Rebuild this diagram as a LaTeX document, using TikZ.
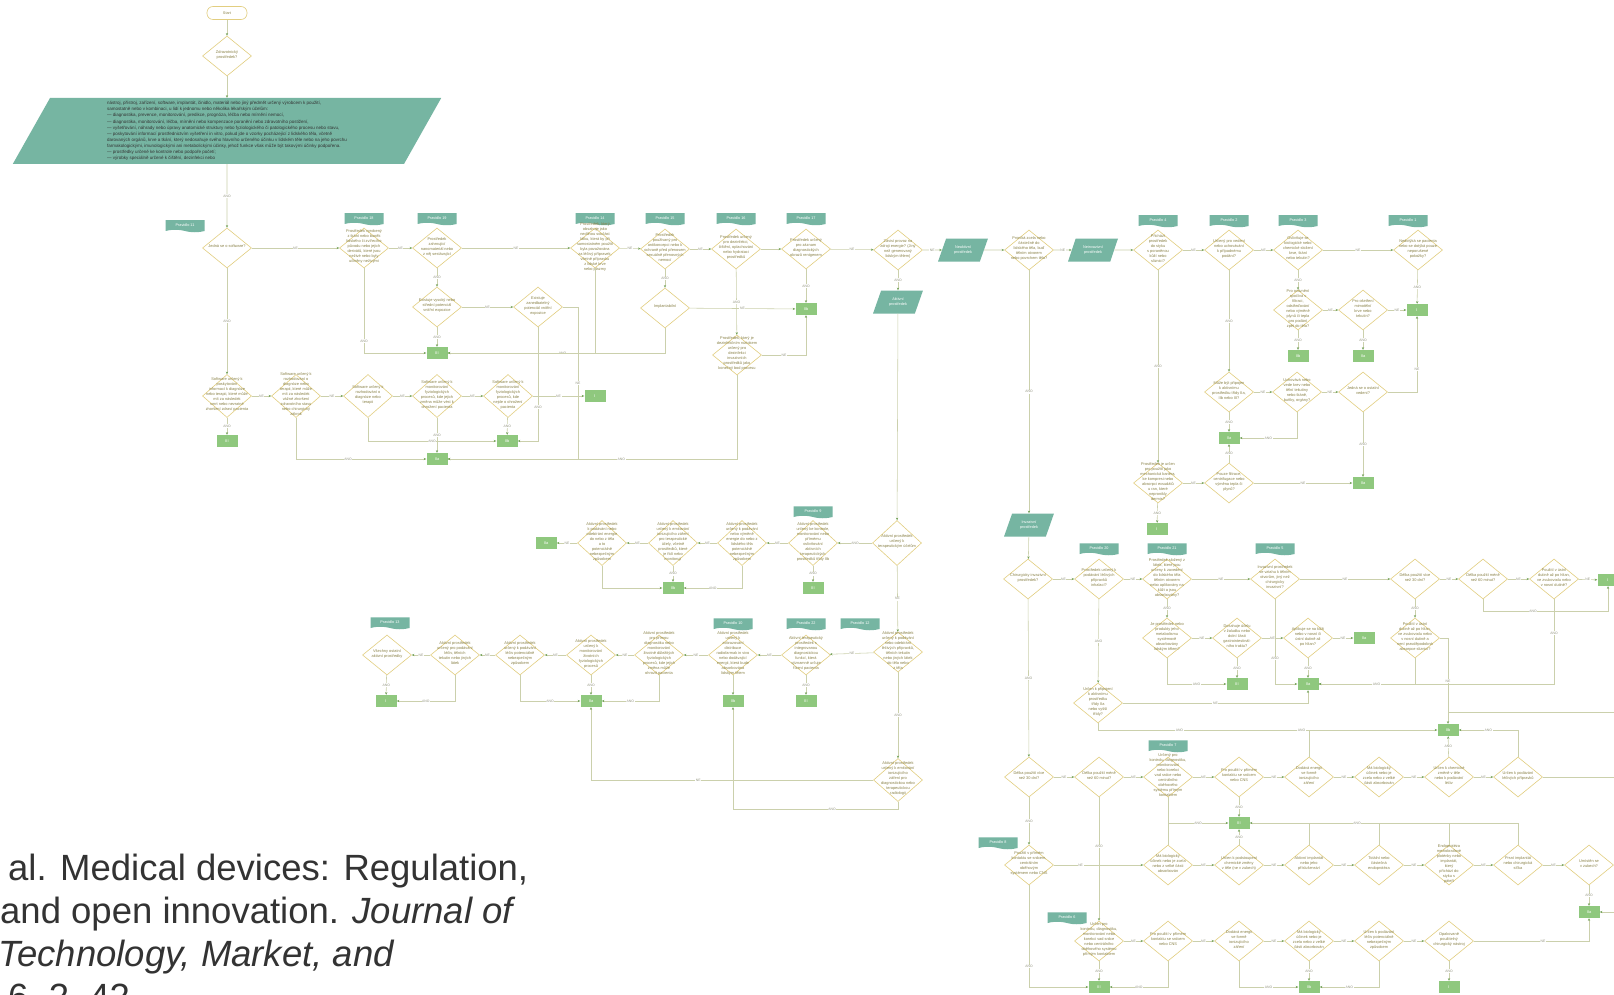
\documentclass[tikz,border=0pt]{standalone}
\usepackage{fontspec}
\setmainfont{Liberation Sans}
\usepackage{tikz}
\usetikzlibrary{positioning}
\usetikzlibrary{shapes.geometric}
\usetikzlibrary{shapes.symbols}
\usetikzlibrary{arrows.meta}

\definecolor{tealc}{RGB}{118,181,162}
\definecolor{greenc}{RGB}{143,200,126}
\definecolor{diac}{RGB}{226,206,128}
\definecolor{linec}{RGB}{203,208,172}
\definecolor{arrc}{RGB}{112,160,84}
\definecolor{txtc}{RGB}{138,130,72}
\definecolor{lblc}{RGB}{150,152,132}

\newcommand{\dtxt}[1]{\makebox[0pt]{\smash{\begin{tabular}{@{}c@{}}#1\end{tabular}}}}

\tikzset{
  dia/.style={diamond, draw=diac, line width=0.6pt, fill=white, minimum width=49pt, minimum height=40pt, inner sep=0pt, text=txtc, font=\fontsize{3.9}{5.0}\selectfont},
  term/.style={rectangle, rounded corners=6pt, draw=diac, line width=0.6pt, fill=white, minimum width=40pt, minimum height=13pt, inner sep=0pt, text=txtc, font=\fontsize{3.8}{4.4}\selectfont},
  para/.style={trapezium, trapezium left angle=65, trapezium right angle=115, trapezium stretches=true, fill=tealc, text=white, minimum width=50pt, minimum height=23pt, inner sep=1pt, align=center, font=\fontsize{3.8}{4.7}\selectfont},
  defbox/.style={trapezium, trapezium left angle=68, trapezium right angle=112, trapezium stretches=true, fill=tealc, text=black!80, minimum width=430pt, minimum height=66pt, inner sep=1pt, font=\fontsize{4.5}{6.1}\selectfont},
  tag/.style={tape, tape bend top=none, tape bend bottom=out and in, tape bend height=2.5pt, fill=tealc, text=white, minimum width=39pt, minimum height=12pt, inner sep=0pt, font=\fontsize{3.8}{4.2}\selectfont},
  cls/.style={rectangle, fill=greenc, text=white, minimum width=21pt, minimum height=12pt, inner sep=0pt, font=\fontsize{3.9}{4.5}\selectfont},
  ln/.style={draw=linec, line width=0.55pt, -{Stealth[length=2.6pt,width=2.2pt,color=arrc]}},
  lnn/.style={draw=linec, line width=0.55pt},
  lbl/.style={fill=white, text=lblc, inner sep=0.6pt, font=\fontsize{3.4}{3.8}\selectfont},
  cit/.style={inner sep=0pt, anchor=base west, text=black!80, font=\fontsize{36.5}{43}\selectfont}
}

\begin{document}
\begin{tikzpicture}[x=1pt,y=-1pt]
\useasboundingbox[fill=white] (0,0) rectangle (1614,995);
\clip (0,0) rectangle (1614,995);

% top
\node[term] (start) at (227,13) {Start};
\node[dia] (zp) at (227,56) {\dtxt{Zdravotnický\\prostředek?}};
\node[defbox] (defin) at (227,131) {\begin{tabular}{@{}l@{}}
nástroj, přístroj, zařízení, software, implantát, činidlo, materiál nebo jiný předmět určený výrobcem k použití,\\
samostatně nebo v kombinaci, u lidí k jednomu nebo několika lékařským účelům:\\
— diagnostika, prevence, monitorování, predikce, prognóza, léčba nebo mírnění nemocí,\\
— diagnostika, monitorování, léčba, mírnění nebo kompenzace poranění nebo zdravotního postižení,\\
— vyšetřování, náhrady nebo úpravy anatomické struktury nebo fyziologického či patologického procesu nebo stavu,\\
— poskytování informací prostřednictvím vyšetření in vitro, pokud jde o vzorky pocházející z lidského těla, včetně\\
darovaných orgánů, krve a tkání, který nedosahuje svého hlavního určeného účinku v lidském těle nebo na jeho povrchu\\
farmakologickými, imunologickými ani metabolickými účinky, jehož funkce však může být takovými účinky podpořena.\\
— prostředky určené ke kontrole nebo podpoře početí;\\
— výrobky speciálně určené k čištění, dezinfekci nebo
\end{tabular}};

% software and rules 18, 19, 14-17
\node[tag] (t11) at (185,225) {Pravidlo 11};
\node[dia] (sw) at (227,248) {\dtxt{Jedná se o software?}};
\node[tag] (t18) at (364,218) {Pravidlo 18};
\node[dia] (r18) at (364,248) {\dtxt{Prostředek vyrobený\\z tkání nebo buněk\\lidského či zvířecího\\původu nebo jejich\\derivátů, které jsou\\neživé nebo byly\\učiněny neživými}};
\node[tag] (t19) at (437,218) {Pravidlo 19};
\node[dia] (r19) at (437,248) {\dtxt{Prostředek\\zahrnující\\nanomateriál nebo\\z něj sestávající}};
\node[dia] (vyso) at (437,307) {\dtxt{Existuje vysoký nebo\\střední potenciál\\vnitřní expozice}};
\node[dia] (zaned) at (538,307) {\dtxt{Existuje\\zanedbatelný\\potenciál vnitřní\\expozice}};
\node[cls] (b1) at (437,353) {III};
\node[tag] (t14) at (595,218) {Pravidlo 14};
\node[dia] (r14) at (595,248) {\dtxt{Prostředek, který\\obsahuje jako\\nedílnou součást\\látku, která by při\\samostatném použití\\byla považována\\za léčivý přípravek,\\včetně přípravku\\z lidské krve\\nebo plazmy}};
\node[tag] (t15) at (665,218) {Pravidlo 15};
\node[dia] (r15) at (665,249) {\dtxt{Prostředek\\používaný pro\\antikoncepci nebo k\\ochraně před přenosem\\sexuálně přenosných\\nemocí}};
\node[dia] (impl) at (665,308) {\dtxt{Implantabilní}};
\node[tag] (t16) at (736,218) {Pravidlo 16};
\node[dia] (r16) at (736,249) {\dtxt{Prostředek určený\\pro dezinfekci,\\čištění, oplachování\\nebo hydrataci\\prostředků}};
\node[dia] (rozs) at (737,355) {\dtxt{Prostředek, který je\\dezinfekčním roztokem\\určený pro\\dezinfekci\\invazivních\\prostředků jako\\konečný bod procesu}};
\node[tag] (t17) at (806,218) {Pravidlo 17};
\node[dia] (r17) at (806,249) {\dtxt{Prostředek určený\\pro záznam\\diagnostických\\obrazů rentgenem}};
\node[cls] (b2) at (806,309) {IIb};
\node[dia] (akt) at (898,250) {\dtxt{Závisí provoz na\\zdroji energie? (Jiný\\než generovaný\\lidským tělem)}};
\node[para] (neakt) at (963,250) {Neaktivní\\prostředek};
\node[para] (aktp) at (898,302) {Aktivní\\prostředek};

% software rows
\node[dia, minimum height=43pt] (swi) at (227,396) {\dtxt{Software určený k\\poskytování\\informací k diagnóze\\nebo terapii, které může\\mít za následek\\smrt nebo nevratné\\zhoršení zdraví pacienta}};
\node[cls] (b3) at (227,441) {III};
\node[dia, minimum height=43pt] (swm) at (296,396) {\dtxt{Software určený k\\rozhodování o\\diagnóze nebo\\terapii, které může\\mít za následek\\vážné zhoršení\\zdravotního stavu\\nebo chirurgický\\zákrok}};
\node[dia, minimum height=43pt] (swr) at (368,396) {\dtxt{Software určený k\\rozhodování o\\diagnóze nebo\\terapii}};
\node[dia, minimum height=43pt] (swf) at (437,396) {\dtxt{Software určený k\\monitorování\\fyziologických\\procesů, kde jejich\\změna může vést k\\ohrožení pacienta}};
\node[dia, minimum height=43pt] (swp) at (508,396) {\dtxt{Software určený k\\monitorování\\fyziologických\\procesů, kde\\nejde o ohrožení\\pacienta}};
\node[cls] (b4) at (595,396) {I};
\node[cls] (b5) at (507,441) {IIb};
\node[cls] (b6) at (437,459) {IIa};

% active devices, rule 9
\node[tag] (t9) at (813,511) {Pravidlo 9};
\node[dia, minimum height=45pt] (ter) at (897,543) {\dtxt{Aktivní prostředek\\určený k\\terapeutickým účelům}};
\node[dia, minimum height=45pt] (r9) at (813,543) {\dtxt{Aktivní prostředek\\určený ke kontrole,\\monitorování nebo\\přímému\\ovlivňování\\aktivních\\terapeutických\\prostředků třídy IIb}};
\node[dia, minimum height=45pt] (d9a) at (742,543) {\dtxt{Aktivní prostředek\\určený k podávání\\nebo výměně\\energie do nebo z\\lidského těla\\potenciálně\\nebezpečným\\způsobem}};
\node[dia, minimum height=45pt] (d9b) at (673,543) {\dtxt{Aktivní prostředek\\určený k emitování\\ionizujícího záření\\pro terapeutické\\účely, včetně\\prostředků, které\\je řídí nebo\\monitorují}};
\node[dia, minimum height=45pt] (d9c) at (602,543) {\dtxt{Aktivní prostředek\\k podávání nebo\\odebírání energie\\do nebo z těla\\a to\\potenciálně\\nebezpečným\\způsobem}};
\node[cls] (b7) at (546,543) {IIa};
\node[cls] (b8) at (673,588) {IIb};
\node[cls] (b9) at (813,588) {III};

% rules 10, 12, 13, 22
\node[tag] (t13) at (390,622) {Pravidlo 13};
\node[dia] (r13) at (387,655) {\dtxt{Všechny ostatní\\aktivní prostředky}};
\node[dia] (d12a) at (455,655) {\dtxt{Aktivní prostředek\\určený pro podávání\\léčiv, tělních\\tekutin nebo jiných\\látek}};
\node[dia] (d12b) at (520,655) {\dtxt{Aktivní prostředek\\určený k podávání\\léčiv potenciálně\\nebezpečným\\způsobem}};
\node[dia] (d10a) at (591,655) {\dtxt{Aktivní prostředek\\určený k\\monitorování\\životních\\fyziologických\\procesů}};
\node[dia] (d10b) at (659,655) {\dtxt{Aktivní prostředek\\pro přímou\\diagnostiku nebo\\monitorování\\životně důležitých\\fyziologických\\procesů, kde jejich\\změna může\\ohrozit pacienta}};
\node[tag] (t10) at (733,623) {Pravidlo 10};
\node[dia] (r10) at (733,655) {\dtxt{Aktivní prostředek\\určený k\\zobrazování\\distribuce\\radiofarmak in vivo\\nebo dodávající\\energii, která bude\\absorbována\\lidským tělem}};
\node[tag] (t22) at (806,623) {Pravidlo 22};
\node[dia] (r22) at (806,655) {\dtxt{Aktivní terapeutický\\prostředek s\\integrovanou\\diagnostickou\\funkcí, která\\významně určuje\\řízení pacienta}};
\node[tag] (t12) at (860,623) {Pravidlo 12};
\node[dia] (r12) at (898,652) {\dtxt{Aktivní prostředek\\určený k podávání\\nebo odebírání\\léčivých přípravků,\\tělních tekutin\\nebo jiných látek\\do těla nebo\\z těla}};
\node[cls] (b10) at (386,701) {I};
\node[cls] (b11) at (591,701) {IIa};
\node[cls] (b12) at (733,701) {IIb};
\node[cls] (b13) at (806,701) {III};
\node[dia, minimum height=43pt] (ion) at (898,780) {\dtxt{Aktivní prostředek\\určený k emitování\\ionizujícího\\záření pro\\diagnostickou nebo\\terapeutickou\\radiologii}};

% non-invasive
\node[dia] (inv) at (1029,250) {\dtxt{Proniká zcela nebo\\částečně do\\lidského těla, buď\\tělním otvorem\\nebo povrchem těla?}};
\node[para] (neinv) at (1093,250) {Neinvazivní\\prostředek};
\node[tag] (t4) at (1158,220) {Pravidlo 4};
\node[dia] (r4) at (1158,250) {\dtxt{Přichází\\prostředek\\do styku\\s poraněnou\\kůží nebo\\sliznicí?}};
\node[tag] (t2) at (1229,220) {Pravidlo 2};
\node[dia] (r2) at (1229,250) {\dtxt{Určený pro vedení\\nebo uchovávání\\k případnému\\podání?}};
\node[tag] (t3) at (1298,220) {Pravidlo 3};
\node[dia] (r3) at (1298,250) {\dtxt{Ovlivňuje se\\biologické nebo\\chemické složení\\krve, tkání\\nebo tekutin?}};
\node[tag] (t1) at (1408,220) {Pravidlo 1};
\node[dia] (r1) at (1418,250) {\dtxt{Nedotýká se pacienta\\nebo se dotýká pouze\\neporušené\\pokožky?}};
\node[cls] (b14) at (1417,310) {I};
\node[dia] (r3a) at (1298,310) {\dtxt{Pro ovlivnění\\spočívá v\\filtraci,\\odstřeďování\\nebo výměně\\plynů či tepla\\pro podání\\zpět do těla?}};
\node[dia] (r3b) at (1363,310) {\dtxt{Pro ošetření\\mimotělní\\krve nebo\\tekutin?}};
\node[cls] (b15) at (1298,356) {IIb};
\node[cls] (b16) at (1363,356) {IIa};
\node[dia] (r2a) at (1229,392) {\dtxt{Může být připojen\\k aktivnímu\\prostředku třídy IIa,\\IIb nebo III?}};
\node[dia] (r2b) at (1297,392) {\dtxt{Uchovává nebo\\vede krev nebo\\tělní tekutiny\\nebo tkáně,\\buňky, orgány?}};
\node[dia] (r2c) at (1363,392) {\dtxt{Jedná se o ostatní\\vedení?}};
\node[cls] (b17) at (1229,438) {IIa};
\node[dia] (r2d) at (1229,483) {\dtxt{Pouze filtrace,\\centrifugace nebo\\výměna tepla či\\plynů?}};
\node[cls] (b18) at (1363,483) {IIa};
\node[dia] (r4a) at (1158,483) {\dtxt{Prostředek je určen\\pro použití jako\\mechanická bariéra,\\ke kompresi nebo\\absorpci exsudátů\\u ran, které\\nepronikly\\dermis?}};
\node[cls] (b19) at (1157,529) {I};

% invasive
\node[para] (invp) at (1029,525) {Invazivní\\prostředek};
\node[dia] (chir) at (1028,579) {\dtxt{Chirurgicky invazivní\\prostředek?}};
\node[tag] (t20) at (1099,548) {Pravidlo 20};
\node[dia] (r20) at (1099,579) {\dtxt{Prostředek určený k\\podávání léčivých\\přípravků\\inhalací?}};
\node[tag] (t21) at (1167,548) {Pravidlo 21};
\node[dia] (r21) at (1167,579) {\dtxt{Prostředek složený z\\látek, které jsou\\určeny k zavedení\\do lidského těla\\tělním otvorem\\nebo aplikovány na\\kůži a jsou\\absorbovány?}};
\node[tag] (t5) at (1275,548) {Pravidlo 5};
\node[dia] (r5) at (1275,579) {\dtxt{Invazivní prostředek\\ve vztahu k tělním\\otvorům, jiný než\\chirurgicky\\invazivní?}};
\node[dia] (d5a) at (1415,579) {\dtxt{Délka použití více\\než 30 dní?}};
\node[dia] (d5b) at (1483,579) {\dtxt{Délka použití méně\\než 60 minut?}};
\node[dia] (d5c) at (1554,579) {\dtxt{Použití v ústní\\dutině až po hltan,\\ve zvukovodu nebo\\v nosní dutině?}};
\node[cls] (b20) at (1608,580) {I};
\node[dia] (r21a) at (1167,638) {\dtxt{Je prostředek nebo\\produkty jeho\\metabolismu\\systémově\\absorbovány\\lidským tělem?}};
\node[dia] (r21b) at (1237,638) {\dtxt{Dosahuje účelu\\v žaludku nebo\\dolní části\\gastrointestinál-\\ního traktu?}};
\node[dia] (r21c) at (1308,638) {\dtxt{Aplikuje se na kůži\\nebo v nosní či\\ústní dutině až\\po hltan?}};
\node[cls] (b21) at (1364,638) {IIa};
\node[cls] (b22) at (1237,684) {III};
\node[cls] (b23) at (1308,684) {IIa};
\node[dia] (d5d) at (1415,638) {\dtxt{Použití v ústní\\dutině až po hltan,\\ve zvukovodu nebo\\v nosní dutině a\\není pravděpodobná\\absorpce sliznicí?}};
\node[dia] (r20a) at (1098,703) {\dtxt{Určen k připojení\\k aktivnímu\\prostředku\\třídy IIa\\nebo vyšší\\třídy?}};
\node[cls] (b24) at (1448,730) {IIb};

% surgically invasive, rules 6, 7, 8
\node[dia] (d30) at (1029,777) {\dtxt{Délka použití více\\než 30 dní?}};
\node[dia] (d60) at (1099,777) {\dtxt{Délka použití méně\\než 60 minut?}};
\node[tag] (t7) at (1168,745) {Pravidlo 7};
\node[dia] (r7) at (1168,777) {\dtxt{Určený pro\\kontrolu, diagnostiku,\\monitorování\\nebo korekci\\vad srdce nebo\\centrálního\\oběhového\\systému přímým\\kontaktem}};
\node[dia] (r7a) at (1239,777) {\dtxt{Pro použití v přímém\\kontaktu se srdcem\\nebo CNS}};
\node[dia] (r7b) at (1309,777) {\dtxt{Dodává energii\\ve formě\\ionizujícího\\záření}};
\node[dia] (r7c) at (1379,777) {\dtxt{Má biologický\\účinek nebo je\\zcela nebo z velké\\části absorbován}};
\node[dia] (r7d) at (1449,777) {\dtxt{Určen k chemické\\změně v těle\\nebo k podávání\\léčiv}};
\node[dia] (r7e) at (1518,777) {\dtxt{Určen k podávání\\léčivých přípravků}};
\node[cls] (b25) at (1239,823) {III};
\node[tag] (t8) at (998,842) {Pravidlo 8};
\node[dia] (r8) at (1029,865) {\dtxt{Použití v přímém\\kontaktu se srdcem,\\centrálním\\oběhovým\\systémem nebo CNS}};
\node[dia] (r8a) at (1168,865) {\dtxt{Má biologický\\účinek nebo je zcela\\nebo z velké části\\absorbován}};
\node[dia] (r8b) at (1239,865) {\dtxt{Určen k podstoupení\\chemické změny\\v těle (ne v zubech)}};
\node[dia] (r8c) at (1309,865) {\dtxt{Aktivní implantát\\nebo jeho\\příslušenství}};
\node[dia] (r8d) at (1379,865) {\dtxt{Totální nebo\\částečná\\endoprotéza}};
\node[dia] (r8e) at (1449,865) {\dtxt{Endoprotéza\\meziobratlové\\ploténky nebo\\implantát,\\který\\přichází do\\styku s\\páteří}};
\node[dia] (r8f) at (1518,865) {\dtxt{Prsní implantát\\nebo chirurgická\\síťka}};
\node[dia] (r8g) at (1589,865) {\dtxt{Umístěn se\\v zubech?}};
\node[cls] (b26) at (1589,912) {IIa};
\node[tag] (t6) at (1067,917) {Pravidlo 6};
\node[dia] (r6) at (1099,941) {\dtxt{Určen pro\\kontrolu, diagnostiku,\\monitorování nebo\\korekci vad srdce\\nebo centrálního\\oběhového systému\\přímým kontaktem}};
\node[dia] (r6a) at (1168,941) {\dtxt{Pro použití v přímém\\kontaktu se srdcem\\nebo CNS}};
\node[dia] (r6b) at (1239,941) {\dtxt{Dodává energii\\ve formě\\ionizujícího\\záření}};
\node[dia] (r6c) at (1309,941) {\dtxt{Má biologický\\účinek nebo je\\zcela nebo z velké\\části absorbován}};
\node[dia] (r6d) at (1379,941) {\dtxt{Určen k podávání\\léčiv potenciálně\\nebezpečným\\způsobem}};
\node[dia] (r6e) at (1449,941) {\dtxt{Opakovaně\\použitelný\\chirurgický nástroj}};
\node[cls] (b27) at (1099,987) {III};
\node[cls] (b28) at (1309,987) {IIb};
\node[cls] (b29) at (1449,987) {I};

% free ends and joints
\coordinate (zj) at (578,459);
\coordinate (ionj) at (733,809);
\coordinate (j5b) at (1608,611);
\coordinate (j24) at (1448,712);
\coordinate (redge1) at (1620,712);
\coordinate (j20) at (1308,703);
\coordinate (redge2) at (1620,777);
\coordinate (j7b) at (1309,730);
\coordinate (redge3) at (1620,912);
\coordinate (j8a) at (1168,823);
\coordinate (j8c) at (1309,823);
\coordinate (j8d) at (1379,823);
\coordinate (j8e) at (1449,823);

% connectors, top part
\draw[ln] (start) -- (zp);
\draw[ln] (zp) -- (defin);
\draw[ln] (defin) -- node[lbl]{ANO} (sw);
\draw[ln] (sw) -- node[lbl]{NE} (r18);
\draw[ln] (r18) -- node[lbl]{NE} (r19);
\draw[ln] (r19) -- node[lbl]{NE} (r14);
\draw[ln] (r14) -- node[lbl]{NE} (r15);
\draw[ln] (r15) -- node[lbl]{NE} (r16);
\draw[ln] (r16) -- (r17);
\draw[ln] (r17) -- node[lbl]{NE} (akt);
\draw[ln] (akt) -- node[lbl]{NE} (neakt);
\draw[ln] (akt) -- node[lbl]{ANO} (aktp);
\draw[ln] (r18.south) |- node[lbl,pos=0.43]{ANO} (b1.west);
\draw[ln] (r19) -- node[lbl]{ANO} (vyso);
\draw[ln] (vyso) -- node[lbl]{ANO} (b1);
\draw[ln] (vyso) -- node[lbl]{NE} (zaned);
\draw[ln] (zaned.south) |- node[lbl,pos=0.35]{ANO} (b5.east);
\draw[ln] (zaned.east) -| node[lbl,pos=0.75]{NE} (zj) -- (b6.east);
\draw[ln] (r14.south) |- node[lbl,pos=0.61]{ANO} (b1.east);
\draw[ln] (impl.south) |- (b1.east);
\draw[ln] (r15) -- node[lbl]{ANO} (impl);
\draw[ln] (impl) -- node[lbl]{NE} (b2);
\draw[ln] (r16) -- node[lbl]{ANO} (rozs);
\draw[ln] (rozs.east) -| node[lbl,pos=0.25]{NE} (b2.south);
\draw[ln] (rozs.south) |- node[lbl,pos=0.7]{ANO} (b6.east);
\draw[ln] (r17) -- node[lbl]{ANO} (b2);

% software
\draw[ln] (sw) -- node[lbl]{ANO} (swi);
\draw[ln] (swi) -- node[lbl]{ANO} (b3);
\draw[ln] (swi) -- node[lbl]{NE} (swm);
\draw[ln] (swm) -- node[lbl]{NE} (swr);
\draw[ln] (swr) -- node[lbl]{NE} (swf);
\draw[ln] (swf) -- node[lbl]{NE} (swp);
\draw[ln] (swp) -- node[lbl]{NE} (b4);
\draw[ln] (swm.south) |- node[lbl,pos=0.7]{ANO} (b6.west);
\draw[ln] (swr.south) |- node[lbl,pos=0.75]{ANO} (b5.west);
\draw[ln] (swf) -- node[lbl]{ANO} (b6);
\draw[ln] (swp) -- node[lbl]{ANO} (b5);

% active devices
\draw[ln] (aktp) -- (ter);
\draw[ln] (ter) -- node[lbl]{ANO} (r9);
\draw[ln] (r9) -- node[lbl]{NE} (d9a);
\draw[ln] (d9a) -- node[lbl]{NE} (d9b);
\draw[ln] (d9b) -- node[lbl]{NE} (d9c);
\draw[ln] (d9c) -- node[lbl]{NE} (b7);
\draw[ln] (r9) -- node[lbl]{ANO} (b9);
\draw[ln] (d9a.south) |- node[lbl,pos=0.75]{ANO} (b8.east);
\draw[ln] (d9b) -- node[lbl]{ANO} (b8);
\draw[ln] (d9c.south) |- (b8.west);
\draw[ln] (ter) -- node[lbl]{NE} (r12);
\draw[ln] (r12) -- node[lbl]{NE} (r22);
\draw[ln] (r22) -- node[lbl]{NE} (r10);
\draw[ln] (r10) -- node[lbl]{NE} (d10b);
\draw[ln] (d10b) -- node[lbl]{NE} (d10a);
\draw[ln] (d10a) -- node[lbl]{NE} (d12b);
\draw[ln] (d12b) -- node[lbl]{NE} (d12a);
\draw[ln] (d12a) -- node[lbl]{NE} (r13);
\draw[ln] (r13) -- node[lbl]{ANO} (b10);
\draw[ln] (d12a.south) |- node[lbl,pos=0.75]{ANO} (b10.east);
\draw[ln] (d12b.south) |- node[lbl,pos=0.75]{ANO} (b11.west);
\draw[ln] (d10a) -- node[lbl]{ANO} (b11);
\draw[ln] (d10b.south) |- node[lbl,pos=0.75]{ANO} (b11.east);
\draw[ln] (r10) -- (b12);
\draw[ln] (r22) -- node[lbl]{ANO} (b13);
\draw[ln] (r12) -- node[lbl]{ANO} (ion);
\draw[ln] (ion.west) -| node[lbl,pos=0.31]{NE} (b11.south);
\draw[ln] (ion.south) |- node[lbl,pos=0.7]{ANO} (ionj) -- (b12.south);

% non-invasive
\draw[ln] (neakt) -- (inv);
\draw[ln] (inv) -- node[lbl]{NE} (neinv);
\draw[ln] (neinv) -- (r4);
\draw[ln] (r4) -- node[lbl]{NE} (r2);
\draw[ln] (r2) -- node[lbl]{NE} (r3);
\draw[ln] (r3) -- node[lbl]{NE} (r1);
\draw[ln] (r1) -- node[lbl]{ANO} (b14);
\draw[ln] (r3) -- node[lbl]{ANO} (r3a);
\draw[ln] (r3a) -- node[lbl]{NE} (r3b);
\draw[ln] (r3b) -- node[lbl]{NE} (b14);
\draw[ln] (r3a) -- node[lbl]{ANO} (b15);
\draw[ln] (r3b) -- node[lbl]{ANO} (b16);
\draw[ln] (r2) -- node[lbl]{ANO} (r2a);
\draw[ln] (r2a) -- node[lbl]{NE} (r2b);
\draw[ln] (r2b) -- node[lbl]{NE} (r2c);
\draw[ln] (r2c.east) -| node[lbl,pos=0.65]{NE} (b14.south);
\draw[ln] (r2c) -- node[lbl]{ANO} (b18);
\draw[ln] (r2a) -- node[lbl]{ANO} (b17);
\draw[ln] (r2b.south) |- node[lbl,pos=0.75]{ANO} (b17.east);
\draw[ln] (r2d) -- node[lbl]{ANO} (b17);
\draw[ln] (r2d) -- node[lbl]{NE} (b18);
\draw[ln] (r4) -- node[lbl]{ANO} (r4a);
\draw[ln] (r4a) -- node[lbl]{NE} (r2d);
\draw[ln] (r4a) -- node[lbl]{ANO} (b19);

% invasive
\draw[ln] (inv) -- node[lbl]{ANO} (invp);
\draw[ln] (invp) -- (chir);
\draw[ln] (chir) -- node[lbl]{NE} (r20);
\draw[ln] (r20) -- node[lbl]{NE} (r21);
\draw[ln] (r21) -- node[lbl]{NE} (r5);
\draw[ln] (r5) -- node[lbl]{NE} (d5a);
\draw[ln] (d5a) -- node[lbl]{NE} (d5b);
\draw[ln] (d5b) -- node[lbl]{NE} (d5c);
\draw[ln] (d5c) -- node[lbl]{NE} (b20);
\draw[ln] (d5b.south) |- node[lbl,pos=0.7]{ANO} (j5b) -- (b20.south);
\draw[ln] (d5c.south) |- node[lbl,pos=0.2]{ANO} (b23.east);
\draw[ln] (d5a) -- node[lbl]{ANO} (d5d);
\draw[ln] (d5d.south) |- node[lbl,pos=0.7]{ANO} (b23.east);
\draw[ln] (d5d.east) -| node[lbl,pos=0.75]{NE} (b24.north);
\draw[lnn] (redge1) -- (j24);
\draw[ln] (r21) -- node[lbl]{ANO} (r21a);
\draw[ln] (r21a) -- node[lbl]{NE} (r21b);
\draw[ln] (r21b) -- node[lbl]{NE} (r21c);
\draw[ln] (r21c) -- node[lbl]{NE} (b21);
\draw[ln] (r21a.south) |- node[lbl,pos=0.75]{ANO} (b22.west);
\draw[ln] (r21b) -- node[lbl]{ANO} (b22);
\draw[ln] (r21c) -- node[lbl]{ANO} (b23);
\draw[ln] (r5.south) |- node[lbl,pos=0.35]{ANO} (b23.west);
\draw[ln] (r20) -- node[lbl]{ANO} (r20a);
\draw[ln] (r20a.east) -- node[lbl]{NE} (j20) -- (b23.south);
\draw[ln] (r20a.south) |- node[lbl,pos=0.62]{ANO} node[lbl,pos=0.8]{ANO} (b24.west);
\draw[ln] (chir) -- node[lbl]{ANO} (d30);

% rules 6, 7, 8
\draw[ln] (d30) -- node[lbl]{NE} (d60);
\draw[ln] (d60) -- node[lbl]{NE} (r7);
\draw[ln] (r7) -- node[lbl]{NE} (r7a);
\draw[ln] (r7a) -- node[lbl]{NE} (r7b);
\draw[ln] (r7b) -- node[lbl]{NE} (r7c);
\draw[ln] (r7c) -- node[lbl]{NE} (r7d);
\draw[ln] (r7d) -- node[lbl]{NE} (r7e);
\draw[lnn] (r7e) -- (redge2);
\draw[lnn] (r7b) -- (j7b);
\draw[ln] (r7d) -- node[lbl]{ANO} (b24);
\draw[ln] (r7e.north) |- node[lbl,pos=0.75]{ANO} (b24.east);
\draw[ln] (r7a) -- node[lbl]{ANO} (b25);
\draw[ln] (r7.south) |- node[lbl,pos=0.75]{ANO} (b25.west);
\draw[ln] (d30) -- node[lbl]{ANO} (r8);
\draw[ln] (r8) -- node[lbl,pos=0.3]{NE} (r8a);
\draw[ln] (r8a) -- node[lbl]{NE} (r8b);
\draw[ln] (r8b) -- node[lbl]{NE} (r8c);
\draw[ln] (r8c) -- node[lbl]{NE} (r8d);
\draw[ln] (r8d) -- node[lbl]{NE} (r8e);
\draw[ln] (r8e) -- node[lbl]{NE} (r8f);
\draw[ln] (r8f) -- node[lbl]{NE} (r8g);
\draw[ln] (r8g) -- node[lbl]{ANO} (b26);
\draw[ln] (redge3) -- (b26);
\draw[lnn] (r8a) -- (j8a);
\draw[ln] (r8b) -- node[lbl]{ANO} (b25);
\draw[lnn] (r8c) -- (j8c);
\draw[lnn] (r8d) -- (j8d);
\draw[lnn] (r8e) -- (j8e);
\draw[ln] (r8f.north) |- node[lbl,pos=0.8]{ANO} (b25.east);
\draw[ln] (d60) -- node[lbl,pos=0.4]{ANO} (r6);
\draw[ln] (r8.south) |- node[lbl,pos=0.4]{ANO} (b27.west);
\draw[ln] (r6) -- node[lbl]{ANO} (b27);
\draw[ln] (r6) -- node[lbl]{NE} (r6a);
\draw[ln] (r6a) -- node[lbl]{NE} (r6b);
\draw[ln] (r6b) -- node[lbl]{NE} (r6c);
\draw[ln] (r6c) -- node[lbl]{NE} (r6d);
\draw[ln] (r6d) -- node[lbl]{NE} (r6e);
\draw[ln] (r6e.east) -| node[lbl,pos=0.3]{NE} (b26.south);
\draw[ln] (r6e) -- node[lbl]{ANO} (b29);
\draw[ln] (r6a.south) |- node[lbl,pos=0.75]{ANO} (b27.east);
\draw[ln] (r6b.south) |- node[lbl,pos=0.75]{ANO} (b28.west);
\draw[ln] (r6c) -- node[lbl]{ANO} (b28);
\draw[ln] (r6d.south) |- node[lbl,pos=0.75]{ANO} (b28.east);

% citation
\node[cit] (c1) at (8,880) {al. Medical devices: Regulation,};
\node[cit] (c2) at (0,923) {and open innovation. \textit{Journal of}};
\node[cit] (c3) at (-2,966) {\textit{Technology, Market, and}};
\node[cit] (c4) at (8,1009) {6, 2, 42};

\end{tikzpicture}
\end{document}
